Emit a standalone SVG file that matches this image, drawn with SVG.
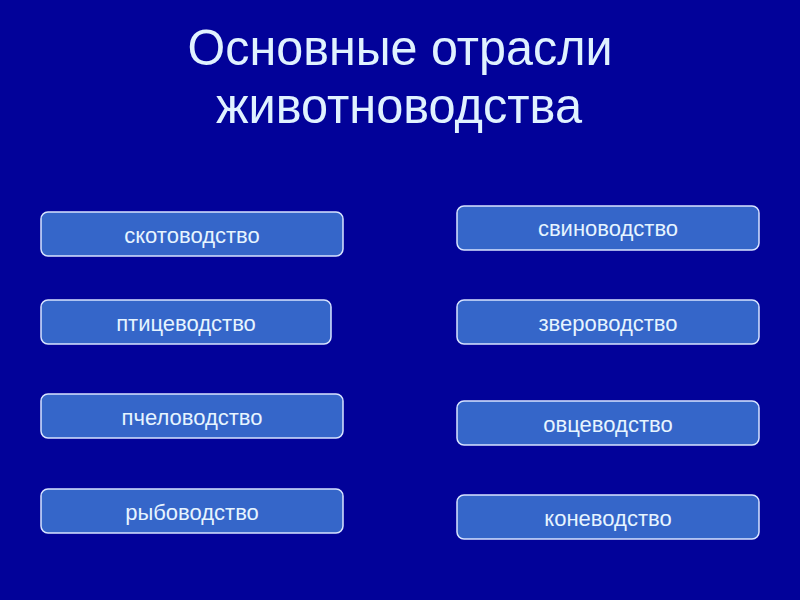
<svg xmlns="http://www.w3.org/2000/svg" width="800" height="600" viewBox="0 0 800 600">
<style>
.bg{fill:#020299}
.box{fill:#3566C9;stroke:#D8E4FF;stroke-width:1.5}
.lbl{font-family:"Liberation Sans",Arial,sans-serif;font-size:22px;fill:#E6F4FF;text-anchor:middle}
.title{font-family:"Liberation Sans",Arial,sans-serif;font-size:47px;fill:#E0F2FF;text-anchor:middle}
</style>
<rect class="bg" x="0" y="0" width="800" height="600"/>
<g id="title">
<text class="title" x="400" y="62" textLength="425" lengthAdjust="spacingAndGlyphs" transform="translate(0,0) scale(1,1.05)">Основные отрасли</text>
<text class="title" x="399" y="117" textLength="366" lengthAdjust="spacingAndGlyphs" transform="translate(0,0) scale(1,1.05)">животноводства</text>
</g>
<g id="node-skotovodstvo"><rect class="box" x="41" y="212" width="302" height="44" rx="7"/><text class="lbl" x="192" y="243">скотоводство</text></g>
<g id="node-pticevodstvo"><rect class="box" x="41" y="300" width="290" height="44" rx="7"/><text class="lbl" x="186" y="331">птицеводство</text></g>
<g id="node-pchelovodstvo"><rect class="box" x="41" y="394" width="302" height="44" rx="7"/><text class="lbl" x="192" y="425">пчеловодство</text></g>
<g id="node-rybovodstvo"><rect class="box" x="41" y="489" width="302" height="44" rx="7"/><text class="lbl" x="192" y="520">рыбоводство</text></g>
<g id="node-svinovodstvo"><rect class="box" x="457" y="206" width="302" height="44" rx="7"/><text class="lbl" x="608" y="236">свиноводство</text></g>
<g id="node-zverovodstvo"><rect class="box" x="457" y="300" width="302" height="44" rx="7"/><text class="lbl" x="608" y="331">звероводство</text></g>
<g id="node-ovcevodstvo"><rect class="box" x="457" y="401" width="302" height="44" rx="7"/><text class="lbl" x="608" y="432">овцеводство</text></g>
<g id="node-konevodstvo"><rect class="box" x="457" y="495" width="302" height="44" rx="7"/><text class="lbl" x="608" y="526">коневодство</text></g>
<g id="connectors"></g>
</svg>
